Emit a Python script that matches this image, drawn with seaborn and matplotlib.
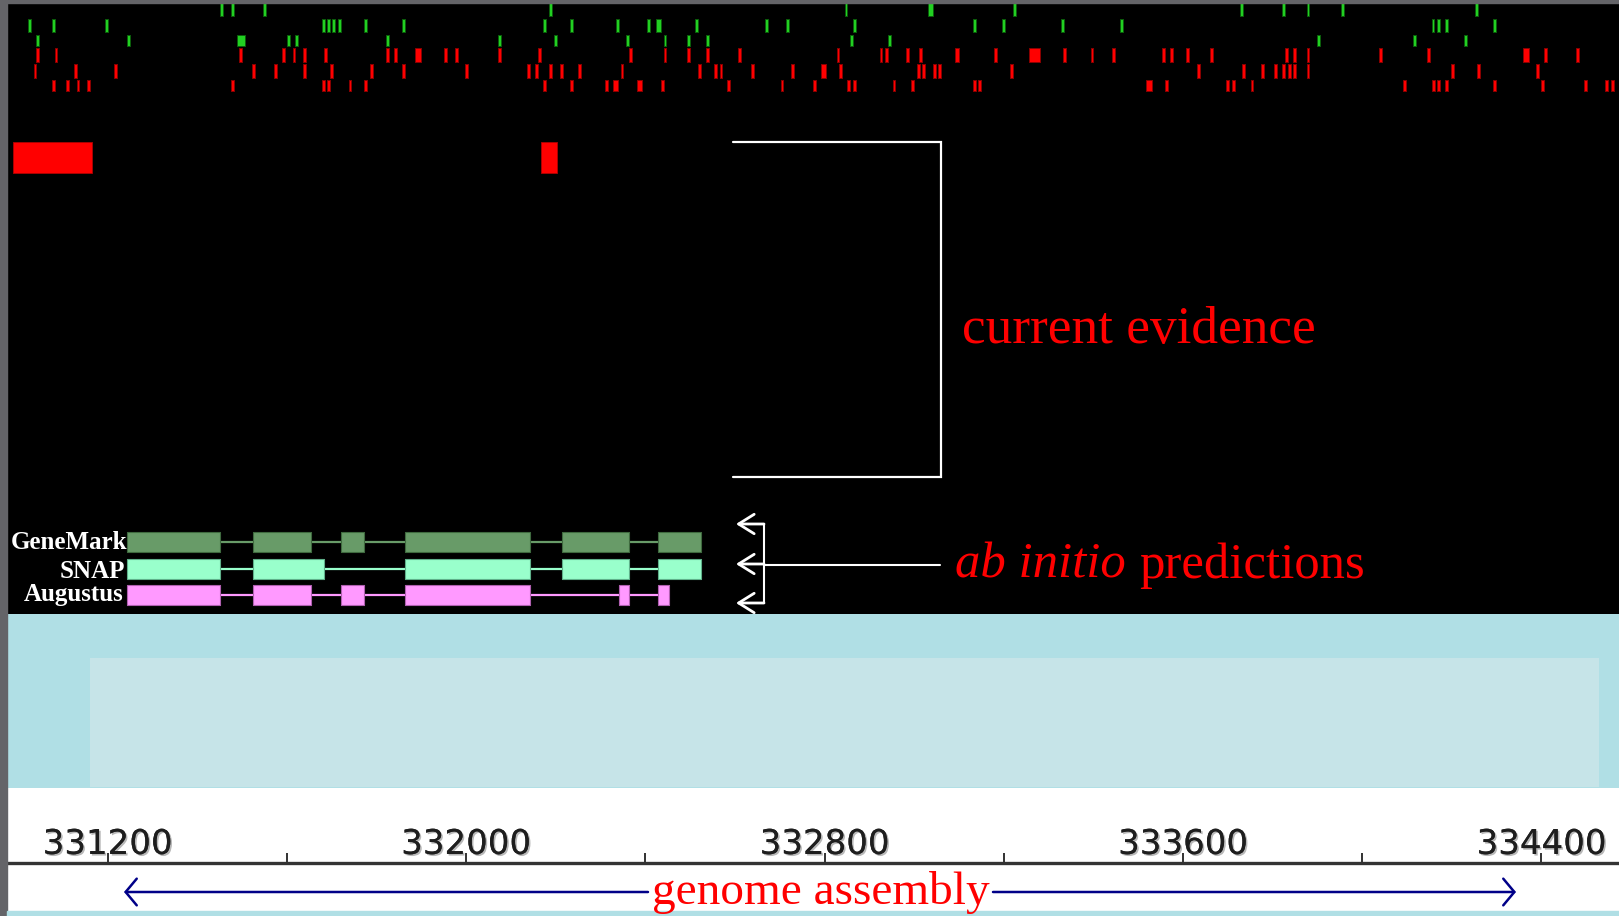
import matplotlib
matplotlib.use("Agg")
import matplotlib.pyplot as plt
import matplotlib.patheffects as pe
import seaborn as sns
from matplotlib.patches import Rectangle

sns.set_theme(style="white")
plt.rcParams["font.family"] = ["DejaVu Sans"]

# ---------------------------------------------------------------- data (bp)
VIEW = (330976, 334573)

# EST / transcript alignments (green): thin hit centres and wider hits
est_1 = [331455, 331479, 331550, 332188, 332848, 333223, 333730, 333825,
         333879, 333956, 334254]
est_1_wide = [(333030, 333043)]
est_2 = [331026, 331079, 331198, 331681, 331693, 331705, 331717, 331776,
         331860, 332176, 332235, 332337, 332408, 332515, 332670, 332717,
         332866, 333134, 333199, 333331, 333462, 334158, 334170, 334189,
         334296]
est_2_wide = [(332423, 332435)]
est_3 = [331044, 331247, 331604, 331622, 331824, 332075, 332200, 332360,
         332444, 332497, 332539, 332860, 332944, 333902, 334117, 334230]
est_3_wide = [(331489, 331506)]

# protein alignments (red)
prot_1 = [331044, 331085, 331497, 331592, 331616, 331639, 331687, 331824,
          331842, 331955, 331979, 332075, 332163, 332366, 332444, 332497,
          332539, 332610, 332830, 332926, 332938, 332985, 333015, 333181,
          333336, 333397, 333444, 333557, 333575, 333611, 333664, 333831,
          333849, 333879, 334040, 334147, 334409, 334480]
prot_1_wide = [(331886, 331900), (333091, 333101), (333257, 333281),
               (334358, 334372)]
prot_2 = [331038, 331128, 331217, 331526, 331574, 331639, 331699, 331788,
          331860, 332002, 332139, 332157, 332188, 332212, 332253, 332348,
          332521, 332557, 332569, 332640, 332729, 332836, 333009, 333021,
          333045, 333056, 333217, 333634, 333736, 333777, 333807, 333825,
          333837, 333849, 333879, 334201, 334260, 334391]
prot_2_wide = [(332793, 332804)]
prot_3 = [331079, 331110, 331134, 331157, 331479, 331681, 331693, 331741,
          331776, 332176, 332235, 332313, 332438, 332586, 332705, 332777,
          332854, 332866, 332955, 332997, 333134, 333146, 333563, 333700,
          333712, 333754, 334094, 334159, 334171, 334189, 334296, 334403,
          334498, 334546, 334558]
prot_3_wide = [(332328, 332339), (332381, 332393), (333518, 333531)]

# repeat-masked blocks
repeat_blocks = [(330990, 331165), (332168, 332203)]

# ab initio gene predictions (exon start, end)
genemark_exons = [(331244, 331452), (331524, 331654), (331721, 331773),
                  (331864, 332143), (332214, 332363), (332428, 332524)]
snap_exons = [(331244, 331452), (331524, 331684), (331864, 332143),
              (332214, 332363), (332428, 332524)]
augustus_exons = [(331244, 331452), (331524, 331654), (331721, 331773),
                  (331864, 332143), (332341, 332363), (332428, 332452)]
predictor_names = ["GeneMark", "SNAP", "Augustus"]

# ruler
ruler_major = [331200, 332000, 332800, 333600, 334400]
ruler_labels = ["331200", "332000", "332800", "333600", "334400"]
ruler_minor = [331600, 332400, 333200, 334000]

# ---------------------------------------------------------------- layout
W, H = 1619, 916
fig = plt.figure(figsize=(W / 100, H / 100), dpi=100)
fig.patch.set_facecolor("white")


def frac(x0, y0, x1, y1):
    """pixel box (top-left origin) -> figure fraction rect"""
    return [x0 / W, 1 - y1 / H, (x1 - x0) / W, (y1 - y0) / H]


def clean(ax):
    ax.set_xticks([])
    ax.set_yticks([])
    for s in ax.spines.values():
        s.set_visible(False)


FRAME = "#646468"
fig.patches.append(Rectangle((0, 0), 7.2 / W, 1, transform=fig.transFigure,
                             color=FRAME, zorder=1))
fig.patches.append(Rectangle((0, 1 - 3 / H), 1, 3 / H,
                             transform=fig.transFigure, color=FRAME, zorder=1))
fig.patches.append(Rectangle((7.2 / W, 0), 1, 5 / H,
                             transform=fig.transFigure, color="#b0dfe5",
                             zorder=1))

# evidence panel: x in bp, y in pixel rows
ax = fig.add_axes(frac(7.2, 3, W, 614))
ax.set_facecolor("black")
ax.set_xlim(*VIEW)
ax.set_ylim(614, 3)
clean(ax)

HIT_W = 6.5
GREEN, GREEN_EDGE = "#22d022", "#0b5e0b"
RED, RED_EDGE = "#ff0000", "#8a0000"
rows = [
    (est_1, est_1_wide, (3.3, 16.0), GREEN, GREEN_EDGE),
    (est_2, est_2_wide, (19.0, 32.3), GREEN, GREEN_EDGE),
    (est_3, est_3_wide, (35.0, 45.7), GREEN, GREEN_EDGE),
    (prot_1, prot_1_wide, (48.3, 61.7), RED, RED_EDGE),
    (prot_2, prot_2_wide, (64.3, 77.7), RED, RED_EDGE),
    (prot_3, prot_3_wide, (80.3, 91.0), RED, RED_EDGE),
]
for centres, wide, (y0, y1), face, edge in rows:
    bars = [(c - HIT_W / 2, HIT_W) for c in centres]
    bars += [(s, e - s) for s, e in wide]
    ax.broken_barh(bars, (y0, y1 - y0), facecolors=face, edgecolors=edge,
                   linewidth=0.7)

ax.broken_barh([(s, e - s) for s, e in repeat_blocks], (141.5, 31),
               facecolors=RED, edgecolors="#b00000", linewidth=0.6)

genes = [
    (genemark_exons, (532, 552), "#689b68", "#3f6a3f"),
    (snap_exons, (558.5, 579), "#99ffcc", "#5fb08a"),
    (augustus_exons, (585, 605), "#ff99ff", "#b060b0"),
]
for exons, (y0, y1), face, edge in genes:
    yc = (y0 + y1) / 2
    for (s0, e0), (s1, e1) in zip(exons[:-1], exons[1:]):
        ax.plot([e0, s1], [yc, yc], color=face, lw=1.6,
                solid_capstyle="butt", zorder=2)
    ax.broken_barh([(s, e - s) for s, e in exons], (y0, y1 - y0),
                   facecolors=face, edgecolors=edge, linewidth=0.8, zorder=3)

# blue assembly panel
axb = fig.add_axes(frac(7.2, 614, W, 788))
axb.set_facecolor("#b0dfe5")
axb.set_xlim(7.2, W)
axb.set_ylim(788, 614)
clean(axb)
axb.add_patch(Rectangle((89.8, 658), 1509.6, 128.7, color="#c6e4e8", lw=0))

# coordinate ruler
axr = fig.add_axes(frac(7.2, 863, W, 911))
axr.set_facecolor("white")
axr.set_xlim(*VIEW)
axr.set_ylim(0, 1)
axr.set_yticks([])
for side in ("left", "right", "bottom"):
    axr.spines[side].set_visible(False)
axr.spines["top"].set_linewidth(2.4)
axr.spines["top"].set_color("#333333")
axr.xaxis.set_ticks_position("top")
axr.set_xticks(ruler_major, ruler_labels)
axr.set_xticks(ruler_minor, minor=True)
axr.tick_params(axis="x", which="both", direction="out", length=7.5,
                width=1.3, color="#222222", top=True, bottom=False,
                labeltop=True, labelbottom=False, pad=-6, labelsize=24.5,
                labelcolor="#1e1e1e")
for lab in axr.get_xticklabels():
    lab.set_path_effects([pe.withSimplePatchShadow(offset=(1.2, -1.2),
                                                   shadow_rgbFace="#9a9a9a",
                                                   alpha=0.7),
                          pe.Normal()])

# annotation overlay in pixel coordinates
axa = fig.add_axes([0, 0, 1, 1])
axa.set_xlim(0, W)
axa.set_ylim(H, 0)
axa.set_axis_off()
axa.set_zorder(5)

SERIF = ["Liberation Serif", "DejaVu Serif"]

axa.plot([733, 941, 941, 733], [141.5, 141.5, 476.5, 476.5],
         color="white", lw=1.6, solid_joinstyle="miter")
axa.text(962, 343, "current evidence", family=SERIF, fontsize=38.3,
         color="#ff0000", ha="left", va="baseline")

axa.plot([764, 764], [524, 603], color="white", lw=1.5)
axa.plot([764, 940], [565, 565], color="white", lw=1.5)
for yy in (524, 564, 603):
    axa.annotate("", xy=(736, yy), xytext=(764, yy),
                 arrowprops=dict(arrowstyle="->,head_length=0.8,head_width=0.5",
                                 color="white", lw=2.0, shrinkA=0, shrinkB=0,
                                 mutation_scale=14))

t_ab = axa.text(955, 578, "ab initio", family=SERIF, style="italic",
                fontsize=36.5, color="#ff0000", ha="left", va="baseline")
fig.canvas.draw()
bb = t_ab.get_window_extent(renderer=fig.canvas.get_renderer())
axa.text(bb.x1 + 13, 578, "predictions", family=SERIF, fontsize=36.5,
         color="#ff0000", ha="left", va="baseline")

for name, (xr, yb) in zip(predictor_names,
                          [(127, 549), (125, 578), (123.6, 601)]):
    axa.text(xr, yb, name, family=SERIF, fontweight="bold", fontsize=18,
             color="white", ha="right", va="baseline")

NAVY = "#000088"
axa.text(820.5, 904, "genome assembly", family=SERIF, fontsize=34,
         color="#ff0000", ha="center", va="baseline")
for x_head, x_tail in ((124, 648), (1516, 993)):
    axa.annotate("", xy=(x_head, 892), xytext=(x_tail, 892),
                 arrowprops=dict(arrowstyle="->,head_length=0.5,head_width=0.6",
                                 color=NAVY, lw=1.8, shrinkA=0, shrinkB=0,
                                 mutation_scale=16))

fig.savefig("out.png", dpi=100, facecolor=fig.get_facecolor())
